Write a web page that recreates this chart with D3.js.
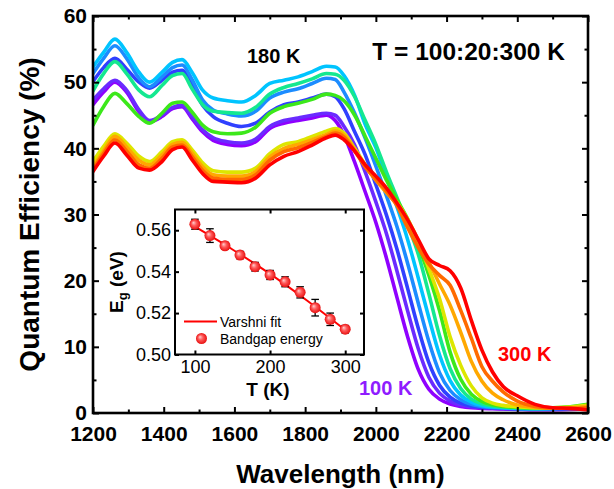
<!DOCTYPE html>
<html><head><meta charset="utf-8">
<script src="https://cdn.jsdelivr.net/npm/d3@7"></script>
<style>body{margin:0;background:#fff}svg{display:block}text{font-family:"Liberation Sans",Arial,sans-serif}</style>
</head><body><svg id="c" width="614" height="489"></svg>
<script>
// ---------- data ----------
const wavelengths = [1200,1230,1262,1295,1330,1360,1395,1425,1452,1480,1510,1540,1580,1620,1660,1700,1740,1780,1820,1860,1885,
  1910,1940,1970,2000,2030,2060,2090,2120,2150,2180,2210,2240,2270,2300,2330,2360,2400,2450,2500,2550,2600];
const temps = [100,120,140,160,180,200,220,240,260,280,300];
const colors = ["#8F00FF","#6A2BFF","#3040FF","#1C8CFF","#00C4FF","#14E890","#3CE81A","#DDE600","#FFA800","#FF6A00","#FF0000"];
const qe100 = [46.6,48.5,50.0,48.5,45.5,44.0,44.8,46.0,46.3,44.5,42.5,41.2,40.6,40.4,41.0,43.0,43.8,44.2,44.6,45.0,44.2,42.0,37.9,33.4,28.8,23.4,17.4,11.5,6.6,3.6,2.1,1.35,1.0,0.8,0.7,0.65,0.6,0.55,0.5,0.5,0.55,0.7];
const qe120 = [47.3,49.0,50.3,48.8,45.8,44.2,45.0,46.2,46.5,44.8,42.8,41.6,41.0,40.8,41.4,43.3,44.2,44.6,45.0,45.3,45.0,43.3,40.5,36.4,31.9,27.1,21.4,15.4,9.7,5.4,3.0,1.8,1.2,0.95,0.8,0.72,0.65,0.6,0.55,0.55,0.6,0.8];
const qe140 = [50.1,52.2,53.6,52.0,50.0,49.1,50.3,51.5,51.8,49.5,46.5,44.8,43.8,43.3,43.8,45.5,46.6,47.0,47.6,48.2,47.8,46.0,42.5,39.0,34.5,29.9,24.7,18.8,12.8,7.6,4.2,2.4,1.5,1.07,0.9,0.8,0.72,0.65,0.6,0.6,0.65,0.9];
const qe160 = [51.3,53.6,55.5,53.6,50.6,49.3,50.8,52.2,52.6,50.4,47.3,45.8,45.2,44.9,45.6,47.6,48.5,49.0,49.8,50.6,50.4,48.5,45.3,41.5,37.3,32.8,28.1,22.6,16.6,10.8,6.1,3.4,2.0,1.3,1.0,0.85,0.75,0.68,0.62,0.65,0.75,1.0];
const qe180 = [52.3,54.5,56.5,54.5,51.5,50.0,51.5,53.0,53.4,51.5,48.8,47.6,47.2,47.0,48.0,49.8,50.3,50.8,51.6,52.4,52.3,51.0,48.0,43.6,40.1,35.6,31.1,26.2,20.4,14.4,8.8,4.9,2.7,1.65,1.15,0.9,0.8,0.7,0.65,0.7,0.85,1.2];
const qe200 = [48.7,51.3,53.1,51.3,48.8,47.8,49.5,51.0,51.3,49.0,46.6,45.6,45.4,45.3,46.2,48.2,49.2,49.8,50.5,51.3,51.2,50.3,47.8,44.2,40.6,36.4,32.5,28.5,24.0,18.0,11.7,6.7,3.7,2.1,1.4,1.05,0.9,0.8,0.7,0.75,0.85,1.2];
const qe220 = [43.5,46.3,48.3,46.8,44.8,43.8,45.3,46.8,47.0,45.5,43.5,42.5,42.2,42.3,43.2,45.3,46.3,46.8,47.4,48.2,48.0,47.2,45.0,41.8,38.5,35.2,32.2,29.3,25.3,20.8,15.5,9.2,5.1,2.85,1.75,1.25,1.0,0.85,0.75,0.8,0.95,1.3];
const qe240 = [38.0,40.3,42.2,40.8,38.8,38.0,39.5,41.0,41.3,39.8,37.8,36.6,36.4,36.4,37.0,39.2,40.6,41.0,41.8,42.6,43.0,42.3,40.0,37.5,35.3,33.5,31.8,29.3,26.0,21.8,17.3,11.5,7.2,4.1,2.3,1.5,1.15,0.95,0.8,0.8,0.9,1.2];
const qe260 = [37.2,39.6,41.8,40.2,38.2,37.5,39.0,40.6,40.9,39.3,37.2,36.0,35.8,35.8,36.5,38.7,40.0,40.6,41.3,42.1,42.6,42.0,39.8,37.3,35.2,33.3,31.5,29.0,26.0,22.8,19.5,16.3,12.2,7.8,4.8,3.0,2.0,1.2,0.85,0.75,0.8,1.0];
const qe280 = [36.8,39.2,41.3,39.6,37.5,37.0,38.5,40.2,40.5,38.8,36.7,35.5,35.3,35.3,36.0,38.2,39.5,40.1,40.9,41.8,42.3,41.7,39.6,37.2,35.3,33.5,31.3,28.0,25.0,22.5,20.8,19.3,15.5,11.3,7.0,4.8,3.2,1.8,1.0,0.75,0.7,0.8];
const qe300 = [36.5,38.8,40.8,39.0,37.0,36.7,38.0,39.8,40.2,38.3,36.2,35.0,34.9,34.8,35.5,37.5,38.8,39.5,40.5,41.6,42.0,41.3,39.6,37.5,35.8,34.0,31.7,29.2,26.2,23.3,22.3,21.5,18.9,14.0,9.5,6.2,4.0,2.6,1.3,0.8,0.7,0.45];
const series = [qe100,qe120,qe140,qe160,qe180,qe200,qe220,qe240,qe260,qe280,qe300];
const xTicks = [1200,1400,1600,1800,2000,2200,2400,2600];
const xMinor = [1300,1500,1700,1900,2100,2300,2500];
const yTicks = [0,10,20,30,40,50,60];
const yMinor = [5,15,25,35,45,55];

// inset
const insetT = [100,120,140,160,180,200,220,240,260,280,300];
const insetEg = [0.5629,0.5574,0.5525,0.5480,0.5424,0.5384,0.5351,0.5300,0.5226,0.5170,0.5122];
const insetErr = [0.0024,0.0033,0.0016,0.0018,0.0021,0.0022,0.0024,0.0027,0.0040,0.0030,0.0018];
const fitT = [100,150,200,250,300];
const fitEg = [0.5617,0.5507,0.5389,0.5258,0.5118];
const insetXTicks = [100,200,300];
const insetYTicks = [0.50,0.52,0.54,0.56];

// ---------- drawing ----------
const svg = d3.select("#c");
const L=93,R=588,T=16,B=413;
const x = d3.scaleLinear().domain([1200,2600]).range([L,R]);
const y = d3.scaleLinear().domain([0,60]).range([B,T]);

svg.append("clipPath").attr("id","clip").append("rect").attr("x",L).attr("y",T).attr("width",R-L).attr("height",B-T);

const line = d3.line().x((d,i)=>x(wavelengths[i])).y(d=>y(d)).curve(d3.curveMonotoneX);
const gl = svg.append("g").attr("clip-path","url(#clip)");
series.forEach((s,k)=>{
  gl.append("path").attr("d",line(s)).attr("fill","none").attr("stroke",colors[k])
    .attr("stroke-width",3.6).attr("stroke-linejoin","round").attr("stroke-linecap","round");
});

function clean(g){ g.select(".domain").remove(); g.selectAll(".tick line").attr("stroke","#000").attr("stroke-width",2); }
const fmain = g=>g.selectAll("text").attr("font-size",21).attr("font-weight","bold").attr("fill","#000");
svg.append("g").attr("transform",`translate(0,${B})`).call(d3.axisBottom(x).tickValues(xTicks).tickSize(-6).tickSizeOuter(0).tickPadding(13).tickFormat(d3.format("d"))).call(clean).call(fmain);
svg.append("g").attr("transform",`translate(0,${B})`).call(d3.axisBottom(x).tickValues(xMinor).tickSize(-3.5).tickSizeOuter(0).tickFormat("")).call(clean);
svg.append("g").attr("transform",`translate(0,${T})`).call(d3.axisTop(x).tickValues(xTicks).tickSize(-6).tickSizeOuter(0).tickFormat("")).call(clean);
svg.append("g").attr("transform",`translate(0,${T})`).call(d3.axisTop(x).tickValues(xMinor).tickSize(-3.5).tickSizeOuter(0).tickFormat("")).call(clean);
svg.append("g").attr("transform",`translate(${L},0)`).call(d3.axisLeft(y).tickValues(yTicks).tickSize(-6).tickSizeOuter(0).tickPadding(6)).call(clean).call(fmain);
svg.append("g").attr("transform",`translate(${L},0)`).call(d3.axisLeft(y).tickValues(yMinor).tickSize(-3.5).tickSizeOuter(0).tickFormat("")).call(clean);
svg.append("g").attr("transform",`translate(${R},0)`).call(d3.axisRight(y).tickValues(yTicks).tickSize(-6).tickSizeOuter(0).tickFormat("")).call(clean);
svg.append("g").attr("transform",`translate(${R},0)`).call(d3.axisRight(y).tickValues(yMinor).tickSize(-3.5).tickSizeOuter(0).tickFormat("")).call(clean);
svg.append("rect").attr("x",L).attr("y",T).attr("width",R-L).attr("height",B-T).attr("fill","none").attr("stroke","#000").attr("stroke-width",2.6);

svg.append("text").attr("x",(L+R)/2).attr("y",483).attr("text-anchor","middle").attr("font-size",26).attr("font-weight","bold").text("Wavelength (nm)");
svg.append("text").attr("transform",`translate(39,${(T+B)/2}) rotate(-90)`).attr("text-anchor","middle").attr("font-size",28).attr("font-weight","bold").text("Quantum Efficiency (%)");

svg.append("text").attr("x",247).attr("y",63).attr("font-size",20).attr("font-weight","bold").text("180 K");
svg.append("text").attr("x",565).attr("y",60).attr("text-anchor","end").attr("font-size",24.5).attr("font-weight","bold").text("T = 100:20:300 K");
svg.append("text").attr("x",498).attr("y",361).attr("font-size",20).attr("font-weight","bold").attr("fill","#FF0000").text("300 K");
svg.append("text").attr("x",359).attr("y",395).attr("font-size",20).attr("font-weight","bold").attr("fill","#8F1CFF").text("100 K");

// ---------- inset ----------
const iL=175,iR=364,iT=209.5,iB=354.5;
const xi = d3.scaleLinear().domain([73.5,325]).range([iL,iR]);
const yi = d3.scaleLinear().domain([0.50,0.57]).range([iB,iT]);
svg.append("rect").attr("x",iL).attr("y",iT).attr("width",iR-iL).attr("height",iB-iT).attr("fill","#fff");
const fin = g=>g.selectAll("text").attr("font-size",18).attr("fill","#000");
svg.append("g").attr("transform",`translate(0,${iB})`).call(d3.axisBottom(xi).tickValues(insetXTicks).tickSize(-4).tickSizeOuter(0).tickPadding(6)).call(clean).call(fin);
svg.append("g").attr("transform",`translate(0,${iT})`).call(d3.axisTop(xi).tickValues(insetXTicks).tickSize(-4).tickSizeOuter(0).tickFormat("")).call(clean);
svg.append("g").attr("transform",`translate(${iL},0)`).call(d3.axisLeft(yi).tickValues(insetYTicks).tickSize(-4).tickSizeOuter(0).tickPadding(4).tickFormat(d3.format(".2f"))).call(clean).call(fin);
svg.append("g").attr("transform",`translate(${iR},0)`).call(d3.axisRight(yi).tickValues(insetYTicks).tickSize(-4).tickSizeOuter(0).tickFormat("")).call(clean);
svg.append("rect").attr("x",iL).attr("y",iT).attr("width",iR-iL).attr("height",iB-iT).attr("fill","none").attr("stroke","#000").attr("stroke-width",2);

const defs = svg.append("defs");
const rg = defs.append("radialGradient").attr("id","ball").attr("cx","50%").attr("cy","50%").attr("r","50%").attr("fx","35%").attr("fy","35%");
rg.append("stop").attr("offset","0%").attr("stop-color","#ffd0d0");
rg.append("stop").attr("offset","45%").attr("stop-color","#ff5a5a");
rg.append("stop").attr("offset","100%").attr("stop-color","#e81010");

const fitLine = d3.line().x((d,i)=>xi(fitT[i])).y(d=>yi(d)).curve(d3.curveMonotoneX);
svg.append("path").attr("d",fitLine(fitEg)).attr("fill","none").attr("stroke","#FF0000").attr("stroke-width",2);

const eb = svg.append("g").attr("stroke","#000").attr("stroke-width",1.3);
insetT.forEach((t,i)=>{
  const cx = xi(t), y1 = yi(insetEg[i]+insetErr[i]), y2 = yi(insetEg[i]-insetErr[i]);
  eb.append("line").attr("x1",cx).attr("x2",cx).attr("y1",y1).attr("y2",y2);
  eb.append("line").attr("x1",cx-3.8).attr("x2",cx+3.8).attr("y1",y1).attr("y2",y1);
  eb.append("line").attr("x1",cx-3.8).attr("x2",cx+3.8).attr("y1",y2).attr("y2",y2);
});
svg.append("g").selectAll("circle").data(insetEg).join("circle")
  .attr("cx",(d,i)=>xi(insetT[i])).attr("cy",d=>yi(d)).attr("r",5.5).attr("fill","url(#ball)");

// legend
svg.append("line").attr("x1",184).attr("x2",217).attr("y1",321.5).attr("y2",321.5).attr("stroke","#FF0000").attr("stroke-width",2);
svg.append("text").attr("x",220).attr("y",326.5).attr("font-size",14).text("Varshni fit");
svg.append("circle").attr("cx",201.5).attr("cy",338.5).attr("r",5.5).attr("fill","url(#ball)");
svg.append("text").attr("x",220).attr("y",343.5).attr("font-size",14).text("Bandgap energy");

svg.append("text").attr("x",268).attr("y",396).attr("text-anchor","middle").attr("font-size",19).attr("font-weight","bold").text("T (K)");
const ey = svg.append("text").attr("transform",`translate(123,${(iT+iB)/2}) rotate(-90)`).attr("text-anchor","middle").attr("font-size",19).attr("font-weight","bold");
ey.append("tspan").text("E");
ey.append("tspan").attr("font-size",13).attr("dy",4).text("g");
ey.append("tspan").attr("dy",-4).text(" (eV)");
</script></body></html>
